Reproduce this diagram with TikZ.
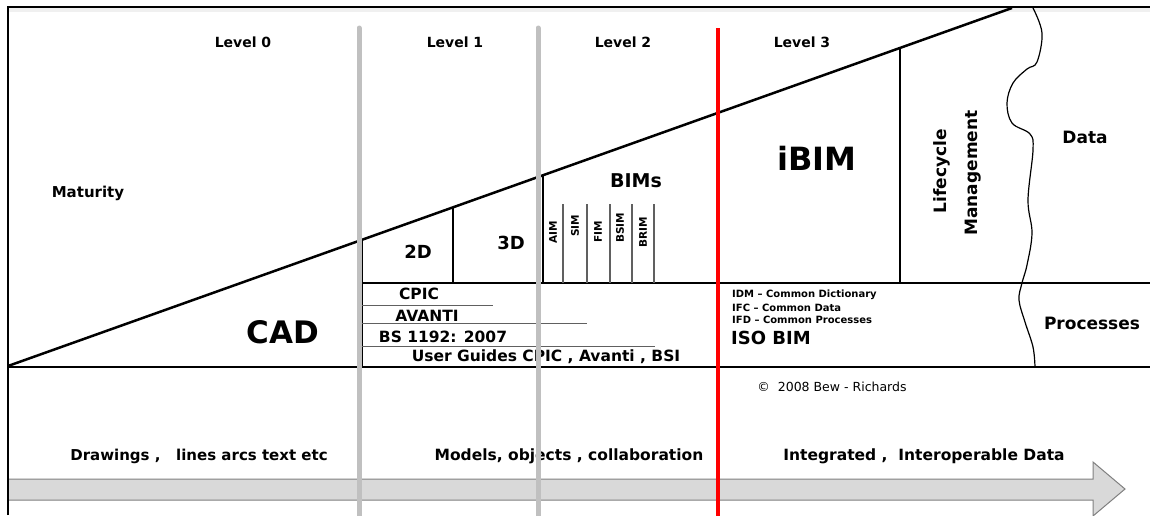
\documentclass[tikz,border=0pt]{standalone}
\usepackage{fontspec}
\setmainfont{DejaVu Sans}
\newcommand{\fsz}[1]{\fontsize{#1}{#1}\selectfont}
\definecolor{lvlgray}{HTML}{C0C0C0}
\definecolor{arrfill}{HTML}{D9D9D9}
\definecolor{arrline}{HTML}{808080}
\definecolor{thingray}{HTML}{606060}
\tikzset{
  lbl/.style={inner sep=0pt, font=\bfseries},
  thickline/.style={line width=2.2pt, black},
  bimline/.style={line width=1.3pt, thingray},
  ulline/.style={line width=0.9pt, thingray},
  levelline/.style={line width=5pt, lvlgray, line cap=round},
  bimlbl/.style={inner sep=0pt, font=\bfseries\fsz{10.5}, rotate=90},
}
\begin{document}
\begin{tikzpicture}[x=1pt,y=-1pt]
\useasboundingbox (0,0) rectangle (1152,515);
\fill[white] (0,0) rectangle (1152,515);
% top light band
\fill[gray!12] (9,8) rectangle (1150,12);
% bottom arrow
\draw[fill=arrfill, draw=arrline, line width=1pt]
  (8,479) -- (1093,479) -- (1093,462) -- (1125,489) -- (1093,516) -- (1093,500) -- (8,500) -- cycle;
% frame
\draw[line width=2pt] (8,515) -- (8,7) -- (1150,7);
% diagonal
\draw[line width=2.5pt] (8,366) -- (1012,8);
% horizontals
\draw[thickline] (8,367) -- (1150,367);
\draw[thickline] (362,283) -- (1150,283);
% verticals
\draw[thickline] (362,239.8) -- (362,367);
\draw[thickline] (453,207.3) -- (453,283);
\draw[thickline] (543,175.2) -- (543,283);
\draw[thickline] (900,47.9) -- (900,283);
% BIM thin verticals
\foreach \xx in {563,587,610,632,654} \draw[bimline] (\xx,204) -- (\xx,283);
% underlines
\draw[ulline] (362,305) -- (493,305);
\draw[ulline] (362,323) -- (587,323);
\draw[ulline] (362,346) -- (655,346);
% wavy edge
\draw[line width=1.2pt] plot[smooth, tension=0.6] coordinates {(1033,8) (1042,33) (1037,62) (1027,69) (1013,83) (1007,103) (1012,123) (1030,134) (1033,150) (1028,200) (1032,233) (1027,265) (1022,283) (1019,300) (1025,322) (1033,347) (1035,367)};
% texts
\node[lbl, font=\bfseries\fsz{14}] (l0) at (243,42) {Level 0};
\node[lbl, font=\bfseries\fsz{14}] (l1) at (455,42) {Level 1};
\node[lbl, font=\bfseries\fsz{14}] (l2) at (623,42) {Level 2};
\node[lbl, font=\bfseries\fsz{14}] (l3) at (802,42) {Level 3};
\node[lbl, font=\bfseries\fsz{15}] (mat) at (88,193) {Maturity};
\node[lbl, font=\bfseries\fsz{31}] (cad) at (283,332) {CAD};
\node[lbl, font=\bfseries\fsz{18}] (d2) at (418,252) {2D};
\node[lbl, font=\bfseries\fsz{18}] (d3) at (511,243) {3D};
\node[lbl, font=\bfseries\fsz{19}] (bims) at (636,181) {BIMs};
\node[lbl, font=\bfseries\fsz{32}] (ibim) at (817,158) {iBIM};
\node[lbl, font=\bfseries\fsz{17}, rotate=90] (lc) at (942,171) {Lifecycle};
\node[lbl, font=\bfseries\fsz{17}, rotate=90] (mg) at (973,173) {Management};
\node[lbl, font=\bfseries\fsz{17}] (data) at (1085,137) {Data};
\node[lbl, font=\bfseries\fsz{17}] (proc) at (1092,323) {Processes};
\node[bimlbl] (aim) at (553,232) {AIM};
\node[bimlbl] (sim) at (575,226) {SIM};
\node[bimlbl] (fim) at (598,232) {FIM};
\node[bimlbl] (bsim) at (620,228) {BSIM};
\node[bimlbl] (brim) at (643,232) {BRIM};
\node[lbl, font=\bfseries\fsz{15.5}] (cpic) at (419,294) {CPIC};
\node[lbl, font=\bfseries\fsz{15.5}] (avanti) at (427,316) {AVANTI};
\node[lbl, font=\bfseries\fsz{15.5}] (bs) at (443,337) {BS 1192: 2007};
\node[lbl, font=\bfseries\fsz{15.5}] (ug) at (546,357) {User Guides CPIC , Avanti , BSI};
\node[lbl, font=\bfseries\fsz{10}, anchor=west] (idm) at (732,295) {IDM – Common Dictionary};
\node[lbl, font=\bfseries\fsz{10}, anchor=west] (ifc) at (732,308) {IFC – Common Data};
\node[lbl, font=\bfseries\fsz{10}, anchor=west] (ifd) at (732,320) {IFD – Common Processes};
\node[lbl, font=\bfseries\fsz{18}, anchor=west] (iso) at (731,338) {ISO BIM};
\node[inner sep=0pt, font=\fsz{12.5}] (copy) at (832,387) {©\ \ 2008 Bew - Richards};
\node[lbl, font=\bfseries\fsz{15}] (draw) at (199,456) {Drawings ,\ \ \ lines arcs text etc};
\node[lbl, font=\bfseries\fsz{15.5}] (mod) at (569,456) {Models, objects , collaboration};
\node[lbl, font=\bfseries\fsz{15.5}] (integ) at (924,456) {Integrated ,\ \ Interoperable Data};
% level lines on top
\draw[levelline] (359,28) -- (359,520);
\draw[levelline] (538,28) -- (538,520);
\draw[line width=3.5pt, red] (718,28) -- (718,520);
\end{tikzpicture}
\end{document}
